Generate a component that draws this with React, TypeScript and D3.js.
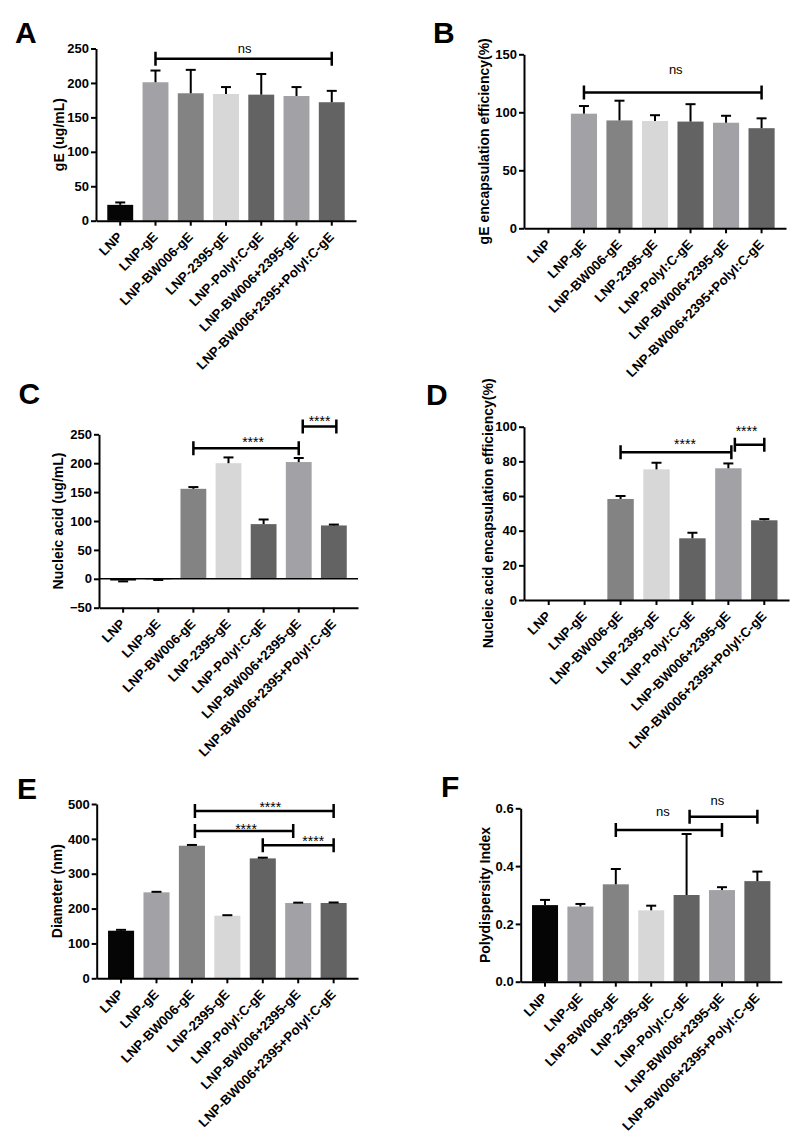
import React, { useRef, useEffect } from 'react';
import * as d3 from 'd3';

// groups shared by all six panels
const categories = [
  'LNP',
  'LNP-gE',
  'LNP-BW006-gE',
  'LNP-2395-gE',
  'LNP-PolyI:C-gE',
  'LNP-BW006+2395-gE',
  'LNP-BW006+2395+PolyI:C-gE',
];
const barColors = ['#050505', '#a1a1a6', '#838383', '#d7d7d7', '#636363', '#a1a1a6', '#636363'];

// A - gE content (ug/mL)
const gEMean = [23, 201, 185, 184, 183, 181, 172];
const gESd = [3.5, 17, 34, 10, 30, 13, 16.5];

// B - gE encapsulation efficiency (%)
const gEEffMean = [0, 98.8, 93, 92.5, 92, 91, 86.3];
const gEEffSd = [0, 6.6, 17, 5, 15, 6, 8.5];

// C - nucleic acid (ug/mL)
const naMean = [-3, -1.5, 155.7, 200, 94.6, 202, 92.3];
const naSd = [1.5, 0.5, 3, 10, 8, 7, 1.5];

// D - nucleic acid encapsulation efficiency (%)
const naEffMean = [0, 0, 58.3, 75.4, 35.6, 76, 46];
const naEffSd = [0, 0, 1.7, 3.8, 3.2, 2.8, 0.7];

// E - diameter (nm)
const diamMean = [136.5, 246.6, 380.3, 179.5, 344, 216, 216];
const diamSd = [2.5, 1.5, 2.2, 1.5, 2, 1, 1.5];

// F - polydispersity index
const pdiMean = [0.265, 0.26, 0.337, 0.247, 0.3, 0.317, 0.348];
const pdiSd = [0.018, 0.009, 0.053, 0.016, 0.211, 0.01, 0.033];

interface Bracket {
  from: number;
  to: number;
  y: number;
  label: string;
  gap: number;
  ldx?: number;
  dx1?: number;
  dx2?: number;
}

interface PanelSpec {
  letter: string;
  lx: number;
  ly: number;
  x0: number;
  x1: number;
  yTop: number;
  yBot: number;
  domain: [number, number];
  ticks: number[];
  fmt: (v: number) => string;
  title: string;
  titleX: number;
  means: number[];
  sds: number[];
  brackets: Bracket[];
  zeroLine?: boolean;
}

const intFmt = d3.format('d');

const panels: PanelSpec[] = [
  {
    letter: 'A', lx: 15, ly: 43, x0: 96, x1: 356, yTop: 48.5, yBot: 220.7,
    domain: [0, 250], ticks: d3.range(0, 251, 50), fmt: intFmt,
    title: 'gE (ug/mL)', titleX: 63.5, means: gEMean, sds: gESd,
    brackets: [{ from: 1, to: 6, y: 235, label: 'ns', gap: 6, ldx: 1 }],
  },
  {
    letter: 'B', lx: 433, ly: 43, x0: 524, x1: 786, yTop: 54.3, yBot: 228.3,
    domain: [0, 150], ticks: d3.range(0, 151, 50), fmt: intFmt,
    title: 'gE encapsulation efficiency(%)', titleX: 489, means: gEEffMean, sds: gEEffSd,
    brackets: [{ from: 1, to: 6, y: 117, label: 'ns', gap: 18.5, ldx: 3 }],
  },
  {
    letter: 'C', lx: 18.5, ly: 403.5, x0: 99, x1: 358, yTop: 434.3, yBot: 607.7,
    domain: [-50, 250], ticks: d3.range(-50, 251, 50), fmt: intFmt,
    title: 'Nucleic acid (ug/mL)', titleX: 63, means: naMean, sds: naSd, zeroLine: true,
    brackets: [
      { from: 2, to: 5, y: 226, label: '****', gap: 1, ldx: 7 },
      { from: 5, to: 6, y: 263.5, label: '****', gap: 0, dx1: 4, dx2: 2.5 },
    ],
  },
  {
    letter: 'D', lx: 426, ly: 404.5, x0: 524, x1: 789, yTop: 426.7, yBot: 600,
    domain: [0, 100], ticks: d3.range(0, 101, 20), fmt: intFmt,
    title: 'Nucleic acid encapsulation efficiency(%)', titleX: 493, means: naEffMean, sds: naEffSd,
    brackets: [
      { from: 2, to: 5, y: 85.2, label: '****', gap: 3.5, ldx: 9, dx2: 3 },
      { from: 5, to: 6, y: 89.6, label: '****', gap: 8.5, ldx: -3, dx1: 6.5 },
    ],
  },
  {
    letter: 'E', lx: 17, ly: 799, x0: 96.7, x1: 358, yTop: 804, yBot: 978.3,
    domain: [0, 500], ticks: d3.range(0, 501, 100), fmt: intFmt,
    title: 'Diameter (nm)', titleX: 62, means: diamMean, sds: diamSd,
    brackets: [
      { from: 2, to: 6, y: 480, label: '****', gap: -1, ldx: 6, dx1: 3 },
      { from: 2, to: 5, y: 422.4, label: '****', gap: -2.5, ldx: 2, dx1: 3, dx2: -5 },
      { from: 4, to: 6, y: 381.4, label: '****', gap: -1, ldx: 15 },
    ],
  },
  {
    letter: 'F', lx: 441, ly: 796.7, x0: 520.7, x1: 781.7, yTop: 808.3, yBot: 981.7,
    domain: [0, 0.6], ticks: [0, 0.2, 0.4, 0.6], fmt: d3.format('.1f'),
    title: 'Polydispersity Index', titleX: 489.5, means: pdiMean, sds: pdiSd,
    brackets: [
      { from: 2, to: 5, y: 0.525, label: 'ns', gap: 14, ldx: -6 },
      { from: 4, to: 6, y: 0.571, label: 'ns', gap: 11.7, ldx: -6, dx1: 3 },
    ],
  },
];

const FONT = '"Liberation Sans", Arial, sans-serif';

const App: React.FC = () => {
  const svgRef = useRef<SVGSVGElement>(null);

  useEffect(() => {
    if (!svgRef.current) return;
    const svg = d3.select(svgRef.current);
    svg.selectAll('*').remove();

    panels.forEach(p => {
      const g = svg.append('g').style('font-family', FONT);

      const x = d3.scaleBand<string>()
        .domain(categories)
        .range([p.x0, p.x1])
        .paddingInner(0.265)
        .paddingOuter(0.32);
      const y = d3.scaleLinear().domain(p.domain).range([p.yBot, p.yTop]);
      const bw = x.bandwidth();
      const cx = (i: number) => (x(categories[i]) || 0) + bw / 2;

      // panel letter
      g.append('text')
        .attr('x', p.lx)
        .attr('y', p.ly)
        .style('font-size', '30px')
        .style('font-weight', 'bold')
        .text(p.letter);

      // bars
      g.selectAll('rect.bar')
        .data(p.means)
        .join('rect')
        .attr('class', 'bar')
        .attr('x', (_, i) => x(categories[i]) || 0)
        .attr('width', bw)
        .attr('y', d => Math.min(y(0), y(d)))
        .attr('height', d => Math.abs(y(d) - y(0)))
        .attr('fill', (_, i) => barColors[i]);

      // error bars (one-sided, away from zero)
      p.means.forEach((m, i) => {
        const sd = p.sds[i];
        if (!sd) return;
        const tip = m >= 0 ? m + sd : m - sd;
        const c = cx(i);
        g.append('line')
          .attr('x1', c).attr('x2', c)
          .attr('y1', y(m)).attr('y2', y(tip))
          .attr('stroke', '#000').attr('stroke-width', 2);
        g.append('line')
          .attr('x1', c - 5).attr('x2', c + 5)
          .attr('y1', y(tip)).attr('y2', y(tip))
          .attr('stroke', '#000').attr('stroke-width', 2);
      });

      if (p.zeroLine) {
        g.append('line')
          .attr('x1', p.x0).attr('x2', p.x1)
          .attr('y1', y(0)).attr('y2', y(0))
          .attr('stroke', '#000').attr('stroke-width', 1.5);
      }

      // y axis
      const yAxis = g.append('g')
        .attr('transform', `translate(${p.x0},0)`)
        .call(d3.axisLeft(y).tickValues(p.ticks).tickFormat(d => p.fmt(+d)).tickSize(5).tickSizeOuter(0).tickPadding(2));
      yAxis.select('.domain').attr('stroke-width', 2);
      yAxis.selectAll('.tick line').attr('stroke-width', 2);
      yAxis.selectAll('.tick text')
        .style('font-family', FONT)
        .style('font-size', '13px')
        .style('font-weight', 'bold')
        .attr('fill', '#000');

      // x axis
      const xAxis = g.append('g')
        .attr('transform', `translate(0,${p.yBot})`)
        .call(d3.axisBottom(x).tickSize(5).tickSizeOuter(0).tickFormat(() => ''));
      xAxis.select('.domain').attr('stroke-width', 2);
      xAxis.selectAll('.tick line').attr('stroke-width', 2);

      g.selectAll('text.xl')
        .data(categories)
        .join('text')
        .attr('class', 'xl')
        .attr('transform', (_, i) => `translate(${cx(i) + 3},${p.yBot + 17}) rotate(-45)`)
        .attr('text-anchor', 'end')
        .style('font-size', '13.3px')
        .style('font-weight', 'bold')
        .text(d => d);

      // y title
      g.append('text')
        .attr('transform', `translate(${p.titleX},${(p.yTop + p.yBot) / 2}) rotate(-90)`)
        .attr('text-anchor', 'middle')
        .style('font-size', '14px')
        .style('font-weight', 'bold')
        .text(p.title);

      // significance brackets
      p.brackets.forEach(b => {
        const xa = cx(b.from) + (b.dx1 || 0);
        const xb = cx(b.to) + (b.dx2 || 0);
        const yy = y(b.y);
        const path = `M${xa},${yy - 7}V${yy + 7}M${xa},${yy}H${xb}M${xb},${yy - 7}V${yy + 7}`;
        g.append('path')
          .attr('d', path)
          .attr('fill', 'none')
          .attr('stroke', '#000')
          .attr('stroke-width', 2.5);
        g.append('text')
          .attr('x', (xa + xb) / 2 + (b.ldx || 0))
          .attr('y', yy - b.gap)
          .attr('text-anchor', 'middle')
          .style('font-size', b.label === 'ns' ? '13px' : '14px')
          .text(b.label);
      });
    });
  }, []);

  return (
    <div style={{ position: 'absolute', left: 0, top: 0, background: '#fff' }}>
      <svg ref={svgRef} width={794} height={1134} style={{ display: 'block' }} />
    </div>
  );
};

export default App;
